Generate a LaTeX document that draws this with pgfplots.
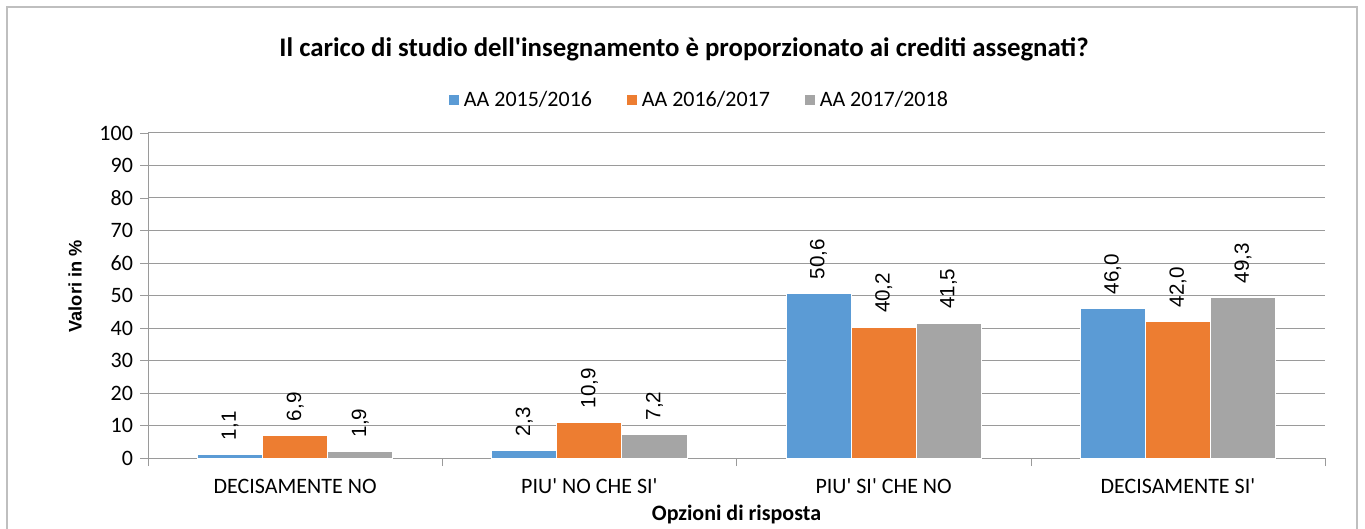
\documentclass[border=0pt]{standalone}
\usepackage{pgfplots}
\pgfplotsset{compat=1.18}
\usepackage{fontspec}
\setmainfont{Carlito}
\newfontfamily\arial{Liberation Sans}
\definecolor{cBlue}{HTML}{5B9BD5}
\definecolor{cOrange}{HTML}{ED7D31}
\definecolor{cGray}{HTML}{A5A5A5}
\definecolor{gridc}{HTML}{9A9A9A}
\definecolor{framec}{HTML}{BFBFBF}
\newcommand{\q}{\textquotesingle}
\begin{document}
\begin{tikzpicture}
\useasboundingbox (0,0) rectangle (682.5pt,-264.5pt);
\draw[framec, line width=0.6pt] (3.5pt,-264.5pt) -- (3.5pt,-3.5pt) -- (678.5pt,-3.5pt) -- (678.5pt,-264.5pt);
\begin{axis}[
  at={(74pt,-229pt)}, anchor=south west,
  scale only axis, width=588.5pt, height=162.5pt,
  ybar=0pt, bar width=0.221,
  xmin=-0.5, xmax=3.5, ymin=0, ymax=100,
  xtick={0,1,2,3},
  xticklabels={DECISAMENTE NO, PIU\q{} NO CHE SI\q, PIU\q{} SI\q{} CHE NO, DECISAMENTE SI\q},
  minor xtick={-0.5,0.5,1.5,2.5,3.5},
  ytick={0,10,...,100},
  major x tick style={draw=none},
  minor x tick style={draw=gridc},
  major y tick style={draw=gridc},
  tick align=outside, major tick length=4pt, minor tick length=4pt,
  axis lines*=left, axis line style={draw=gridc, -},
  ymajorgrids, grid style={draw=gridc, line width=0.5pt},
  /pgf/number format/assume math mode=true,
  tick label style={font=\fontsize{11}{13}\selectfont, black},
  xticklabel style={yshift=-3pt},
  title={\textbf{Il carico di studio dell\q insegnamento è proporzionato ai crediti assegnati?}},
  title style={at={(axis description cs:0.4554,1.2646)}, anchor=center, yshift=-7pt, font=\fontsize{13.4}{16}\selectfont},
  xlabel={\textbf{Opzioni di risposta}},
  xlabel style={at={(axis description cs:0.5,-0.175)}, anchor=center, font=\fontsize{11}{13}\selectfont},
  ylabel={\textbf{Valori in \%}},
  ylabel style={at={(axis description cs:-0.062,0.528)}, anchor=center, rotate=0, font=\arial\fontsize{9.1}{11}\selectfont},
  legend columns=3,
  legend style={at={(axis description cs:0.469,1.1015)}, anchor=center, draw=none, fill=none,
    font=\fontsize{11}{13}\selectfont, /tikz/every even column/.append style={column sep=15pt}},
  legend image code/.code={\fill[#1] (0pt,-2.75pt) rectangle (5.5pt,2.75pt);},
  nodes near coords={\pgfmathprintnumber[fixed, fixed zerofill, precision=1, use comma]{\pgfplotspointmeta}},
  nodes near coords style={yshift=7pt, rotate=90, anchor=west, inner xsep=0pt, font=\arial\fontsize{10.3}{12}\selectfont, black},
]
\addplot[fill=cBlue, draw=white, line width=0.4pt] coordinates {(0,1.1) (1,2.3) (2,50.6) (3,46.0)};
\addplot[fill=cOrange, draw=white, line width=0.4pt] coordinates {(0,6.9) (1,10.9) (2,40.2) (3,42.0)};
\addplot[fill=cGray, draw=white, line width=0.4pt] coordinates {(0,1.9) (1,7.2) (2,41.5) (3,49.3)};
\legend{AA 2015/2016, AA 2016/2017, AA 2017/2018}
\end{axis}
\end{tikzpicture}
\end{document}
